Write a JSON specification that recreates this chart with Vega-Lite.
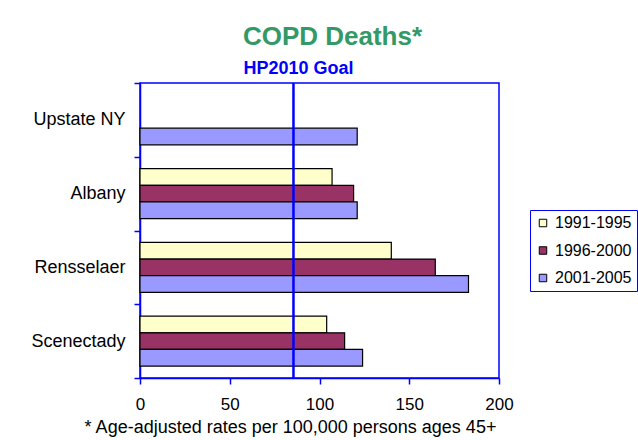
{
  "$schema": "https://vega.github.io/schema/vega-lite/v6.json",
  "width": 359,
  "height": 295,
  "autosize": {"type": "none"},
  "padding": {"left": 140, "top": 83, "right": 139, "bottom": 62},
  "background": "white",
  "title": {
    "text": "COPD Deaths*",
    "fontSize": 26,
    "font": "Liberation Sans",
    "fontWeight": "bold",
    "color": "#339966",
    "anchor": "middle",
    "dx": 13,
    "offset": 9
  },
  "config": {
    "font": "Liberation Sans",
    "view": {"stroke": "#0000FF", "strokeWidth": 1.5}
  },
  "resolve": {"axis": {"x": "independent"}},
  "layer": [
    {
      "data": {
        "values": [
          {"county": "Upstate NY", "period": "2001-2005", "rate": 121},
          {"county": "Albany", "period": "1991-1995", "rate": 107},
          {"county": "Albany", "period": "1996-2000", "rate": 119},
          {"county": "Albany", "period": "2001-2005", "rate": 121},
          {"county": "Rensselaer", "period": "1991-1995", "rate": 140},
          {"county": "Rensselaer", "period": "1996-2000", "rate": 164.5},
          {"county": "Rensselaer", "period": "2001-2005", "rate": 183},
          {"county": "Scenectady", "period": "1991-1995", "rate": 104},
          {"county": "Scenectady", "period": "1996-2000", "rate": 114},
          {"county": "Scenectady", "period": "2001-2005", "rate": 124}
        ]
      },
      "mark": {"type": "bar", "stroke": "black", "strokeWidth": 1.2},
      "encoding": {
        "y": {
          "field": "county",
          "type": "nominal",
          "sort": ["Upstate NY", "Albany", "Rensselaer", "Scenectady"],
          "scale": {"paddingInner": 0, "paddingOuter": 0},
          "axis": {
            "title": null,
            "labelFontSize": 18,
            "labelColor": "black",
            "labelFont": "Liberation Sans",
            "tickBand": "extent",
            "tickSize": 6,
            "labelPadding": 9,
            "domainColor": "#0000FF",
            "domainWidth": 1.5,
            "tickColor": "#0000FF",
            "tickWidth": 1.5
          }
        },
        "yOffset": {
          "field": "period",
          "type": "nominal",
          "scale": {
            "domain": ["1991-1995", "1996-2000", "2001-2005"],
            "paddingInner": 0,
            "paddingOuter": 0.72
          }
        },
        "x": {
          "field": "rate",
          "type": "quantitative",
          "scale": {"domain": [0, 200], "nice": false},
          "axis": {
            "values": [0, 50, 100, 150, 200],
            "grid": false,
            "title": "* Age-adjusted rates per 100,000 persons ages 45+",
            "titleFontSize": 18,
            "titleFontWeight": "normal",
            "titleColor": "black",
            "titleFont": "Liberation Sans",
            "titleX": 150,
            "titleY": 54,
            "titleBaseline": "alphabetic",
            "titleAlign": "center",
            "labelFontSize": 17,
            "labelColor": "black",
            "labelFont": "Liberation Sans",
            "labelFlush": false,
            "labelPadding": 12,
            "tickSize": 6,
            "domainColor": "#0000FF",
            "domainWidth": 1.5,
            "tickColor": "#0000FF",
            "tickWidth": 1.5
          }
        },
        "color": {
          "field": "period",
          "type": "nominal",
          "scale": {
            "domain": ["1991-1995", "1996-2000", "2001-2005"],
            "range": ["#FFFFCC", "#993366", "#9999FF"]
          },
          "legend": {
            "title": null,
            "orient": "none",
            "legendX": 390,
            "legendY": 127,
            "strokeColor": "#0000FF",
            "fillColor": "white",
            "padding": 5,
            "labelFontSize": 16,
            "labelColor": "black",
            "labelFont": "Liberation Sans",
            "symbolType": "square",
            "symbolSize": 56,
            "symbolStrokeColor": "black",
            "symbolStrokeWidth": 1,
            "rowPadding": 11.5,
            "labelOffset": 4
          }
        }
      }
    },
    {
      "data": {"values": [{"goal": 85.5}]},
      "mark": {"type": "rule", "color": "#0000FF", "strokeWidth": 2.5},
      "encoding": {
        "x": {
          "field": "goal",
          "type": "quantitative",
          "axis": {
            "orient": "top",
            "domain": false,
            "ticks": false,
            "labels": false,
            "grid": false,
            "title": "HP2010 Goal",
            "titleFontSize": 18,
            "titleFontWeight": "bold",
            "titleColor": "#0000FF",
            "titleFont": "Liberation Sans",
            "titleX": 158,
            "titleY": -10,
            "titleBaseline": "alphabetic",
            "titleAlign": "center"
          }
        }
      }
    }
  ]
}
